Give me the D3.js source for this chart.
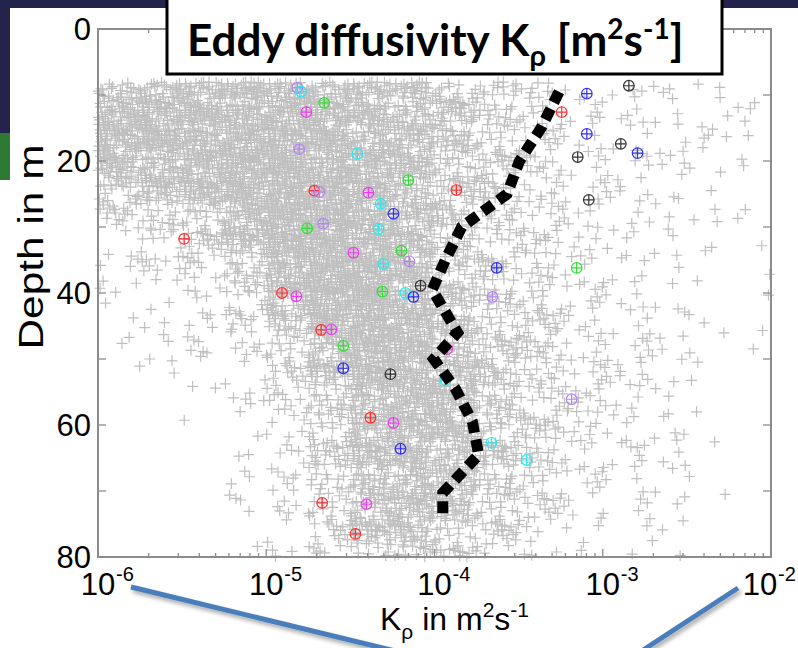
<!DOCTYPE html>
<html>
<head>
<meta charset="utf-8">
<script src="https://cdn.jsdelivr.net/npm/d3@7"></script>
<style>
    body { margin: 0; background: #fff; }
    svg { display: block; font-family: "Liberation Sans", Arial, sans-serif; }
    .frame line, .frame rect { stroke: #8c8c8c; }
</style>
</head>
<body>
<div id="chart"></div>
<script>

// depth bins (upper edge, m) and log10(K) bins (left edge) for the grey cloud of single estimates
var depthBins = [8, 12, 16, 20, 24, 28, 32, 36, 40, 44, 48, 52, 56, 60, 64, 68, 72, 76];
var logKBins = [-6, -5.75, -5.5, -5.25, -5, -4.75, -4.5, -4.25, -4, -3.75, -3.5, -3.25, -3, -2.75, -2.5, -2.25];

// number of grey crosses in each bin (rows = depth bins)
var crossCounts = [
    [40, 50, 50, 55, 55, 50, 44, 40, 28, 18, 12, 5, 4, 4, 3, 2],
    [60, 60, 60, 60, 60, 56, 50, 44, 30, 20, 12, 6, 5, 4, 3, 2],
    [56, 60, 60, 64, 64, 60, 50, 44, 30, 20, 12, 6, 5, 5, 4, 2],
    [44, 50, 56, 64, 68, 64, 56, 44, 26, 20, 12, 6, 5, 4, 2, 1],
    [20, 26, 44, 60, 70, 68, 56, 44, 24, 20, 12, 6, 5, 4, 2, 1],
    [8, 16, 22, 50, 70, 70, 60, 44, 24, 16, 11, 6, 4, 4, 2, 1],
    [5, 8, 16, 30, 64, 72, 64, 48, 24, 16, 12, 6, 4, 2, 2, 1],
    [4, 5, 8, 22, 56, 72, 68, 52, 26, 16, 12, 6, 4, 2, 1, 1],
    [2, 2, 5, 12, 40, 64, 70, 56, 30, 20, 14, 7, 5, 4, 1, 1],
    [2, 4, 5, 8, 22, 56, 68, 60, 40, 22, 16, 8, 5, 4, 2, 1],
    [1, 2, 4, 5, 16, 44, 64, 60, 44, 24, 16, 8, 6, 4, 2, 1],
    [0, 1, 2, 4, 12, 26, 56, 60, 48, 26, 16, 10, 7, 4, 1, 0],
    [0, 0, 1, 4, 10, 22, 48, 56, 48, 26, 16, 10, 6, 2, 1, 0],
    [0, 0, 0, 1, 6, 20, 44, 52, 48, 26, 16, 8, 6, 4, 1, 0],
    [0, 0, 0, 4, 6, 20, 40, 48, 44, 24, 16, 7, 5, 4, 1, 0],
    [0, 0, 0, 4, 5, 16, 40, 48, 40, 22, 12, 6, 4, 4, 1, 0],
    [0, 0, 0, 1, 5, 16, 40, 44, 30, 20, 10, 5, 2, 4, 0, 0],
    [0, 0, 0, 1, 4, 12, 26, 30, 22, 12, 5, 2, 1, 2, 0, 0]
];

// where inside a bin the crosses sit (fractions of the bin)
var binOffsets = [
    [0.12, 0.55], [0.78, 0.21], [0.43, 0.88], [0.91, 0.63], [0.27, 0.09], [0.65, 0.47], [0.05, 0.82], [0.53, 0.33],
    [0.84, 0.94], [0.36, 0.71], [0.71, 0.05], [0.18, 0.38], [0.97, 0.29], [0.48, 0.59], [0.09, 0.16], [0.61, 0.79],
    [0.32, 0.25], [0.88, 0.51], [0.22, 0.97], [0.74, 0.68], [0.41, 0.13], [0.03, 0.44], [0.57, 0.91], [0.94, 0.08],
    [0.15, 0.74], [0.69, 0.36], [0.38, 0.49], [0.82, 0.86], [0.26, 0.62], [0.51, 0.02], [0.99, 0.77], [0.07, 0.27],
    [0.63, 0.19], [0.45, 0.67], [0.80, 0.42], [0.19, 0.85], [0.56, 0.58], [0.31, 0.93], [0.87, 0.15], [0.11, 0.31],
    [0.46, 0.04], [0.02, 0.61], [0.67, 0.83], [0.29, 0.41], [0.93, 0.35], [0.58, 0.12], [0.14, 0.90], [0.76, 0.57],
    [0.35, 0.18], [0.90, 0.81], [0.23, 0.50], [0.60, 0.96], [0.08, 0.07], [0.72, 0.30], [0.49, 0.75], [0.96, 0.53],
    [0.17, 0.23], [0.54, 0.45], [0.81, 0.03], [0.39, 0.84], [0.01, 0.35], [0.66, 0.64], [0.28, 0.78], [0.85, 0.24],
    [0.44, 0.40], [0.13, 0.66], [0.77, 0.99], [0.59, 0.27], [0.33, 0.06], [0.95, 0.72], [0.21, 0.17], [0.70, 0.89],
    [0.06, 0.95], [0.50, 0.22], [0.89, 0.44], [0.25, 0.54], [0.64, 0.01], [0.42, 0.97], [0.79, 0.60], [0.16, 0.47]
];

// coloured profile estimates (K in m2/s, depth in m)
var redK = [5.7e-4, 1.35e-4, 1.93e-5, 3.25e-6, 1.24e-5, 2.12e-5, 4.16e-5, 2.15e-5, 3.39e-5];
var redDepth = [12.6, 24.4, 24.5, 31.8, 40.0, 45.6, 58.9, 71.8, 76.5];
var magentaK = [1.73e-5, 4.05e-5, 3.30e-5, 1.51e-5, 2.44e-5, 1.19e-4, 5.70e-5, 3.94e-5];
var magentaDepth = [12.6, 24.8, 33.9, 40.5, 45.5, 48.5, 59.7, 72.0];
var violetK = [1.53e-5, 1.57e-5, 2.07e-5, 2.18e-5, 7.10e-5, 2.21e-4, 6.53e-4];
var violetDepth = [8.9, 18.2, 24.7, 29.5, 35.2, 40.6, 56.1];
var cyanK = [1.61e-5, 3.48e-5, 4.78e-5, 4.65e-5, 4.97e-5, 6.71e-5, 1.16e-4, 2.18e-4, 3.53e-4];
var cyanDepth = [9.5, 18.9, 26.5, 30.3, 35.6, 40.0, 53.2, 62.7, 65.3];
var greenK = [2.21e-5, 7.00e-5, 1.75e-5, 6.37e-5, 4.90e-5, 2.87e-5, 7.00e-4];
var greenDepth = [11.2, 22.9, 30.2, 33.6, 39.8, 48.0, 36.2];
var blueK = [8.04e-4, 8.04e-4, 1.61e-3, 5.70e-5, 2.34e-4, 7.50e-5, 2.87e-5, 6.28e-5];
var blueDepth = [9.8, 15.9, 18.8, 28.0, 36.2, 40.6, 51.4, 63.6];
var blackK = [1.43e-3, 1.28e-3, 7.10e-4, 8.26e-4, 8.26e-5, 5.47e-5];
var blackDepth = [8.6, 17.4, 19.4, 25.9, 38.9, 52.3];

// median profile (thick dotted line)
var medianDepth = [9.5, 15, 20, 25, 30, 35, 39.5, 46, 50, 54.5, 59.5, 64.5, 70.3, 74.2];
var medianK = [5.5e-4, 4.3e-4, 3.2e-4, 2.7e-4, 1.45e-4, 1.16e-4, 9.7e-5, 1.37e-4, 9.9e-5, 1.33e-4, 1.68e-4, 1.83e-4, 1.12e-4, 1.12e-4];

var yTickValues = [0, 10, 20, 30, 40, 50, 60, 70, 80];
var yTickLabels = [0, 20, 40, 60, 80];
var xDecades = [1e-6, 1e-5, 1e-4, 1e-3, 1e-2];
var xDecadeExp = ["-6", "-5", "-4", "-3", "-2"];

var width = 798, height = 648;
var svg = d3.select("#chart").append("svg")
    .attr("width", width)
    .attr("height", height);

var defs = svg.append("defs");
var shadow = defs.append("filter").attr("id", "shadow")
    .attr("x", "-20%").attr("y", "-20%").attr("width", "140%").attr("height", "160%");
shadow.append("feDropShadow")
    .attr("dx", 2).attr("dy", 3).attr("stdDeviation", 2)
    .attr("flood-color", "#000").attr("flood-opacity", 0.35);

// slide decoration behind the figure
svg.append("rect").attr("x", 0).attr("y", 0).attr("width", width).attr("height", 8).attr("fill", "#23234b");
svg.append("rect").attr("x", 0).attr("y", 0).attr("width", 10).attr("height", 133).attr("fill", "#23234b");
svg.append("rect").attr("x", 0).attr("y", 133).attr("width", 10).attr("height", 47).attr("fill", "#2e7a32");

var x = d3.scaleLog().domain([1e-6, 1e-2]).range([98, 771]);
var y = d3.scaleLinear().domain([0, 80]).range([29, 557]);

// grey crosses
var crosses = [];
crossCounts.forEach(function (row, r) {
    row.forEach(function (n, c) {
        var start = (r * 11 + c * 17) % binOffsets.length;
        for (var k = 0; k < n; k++) {
            var off = binOffsets[(start + k * 3) % binOffsets.length];
            crosses.push([logKBins[c] + off[0] * 0.25, depthBins[r] + off[1] * 4]);
        }
    });
});

svg.append("g")
    .selectAll("path")
    .data(crosses)
    .enter()
    .append("path")
    .attr("d", "M-5.5,0H5.5M0,-5.5V5.5")
    .attr("transform", function (d) {
        return "translate(" + x(Math.pow(10, d[0])) + "," + y(d[1]) + ")";
    })
    .attr("stroke", "#bfbfbf")
    .attr("stroke-width", 1.2)
    .attr("fill", "none");

// frame and ticks (inward, on all four sides)
var frame = svg.append("g").attr("class", "frame");
frame.append("rect")
    .attr("x", 98).attr("y", 29).attr("width", 771 - 98).attr("height", 557 - 29)
    .attr("fill", "none").attr("stroke-width", 2);

var xMinor = x.ticks();
function tickLen(v) {
    return xDecades.indexOf(v) >= 0 ? 8 : 4;
}
frame.selectAll("line.xb").data(xMinor).enter().append("line")
    .attr("x1", function (d) { return x(d); }).attr("x2", function (d) { return x(d); })
    .attr("y1", 557).attr("y2", function (d) { return 557 - tickLen(d); })
    .attr("stroke-width", 1.3);
frame.selectAll("line.xt").data(xMinor).enter().append("line")
    .attr("x1", function (d) { return x(d); }).attr("x2", function (d) { return x(d); })
    .attr("y1", 29).attr("y2", function (d) { return 29 + tickLen(d); })
    .attr("stroke-width", 1.3);
frame.selectAll("line.yl").data(yTickValues).enter().append("line")
    .attr("x1", 98).attr("x2", 106)
    .attr("y1", function (d) { return y(d); }).attr("y2", function (d) { return y(d); })
    .attr("stroke-width", 1.3);
frame.selectAll("line.yr").data(yTickValues).enter().append("line")
    .attr("x1", 771).attr("x2", 763)
    .attr("y1", function (d) { return y(d); }).attr("y2", function (d) { return y(d); })
    .attr("stroke-width", 1.3);

// tick labels
svg.append("g").selectAll("text").data(yTickLabels).enter().append("text")
    .attr("x", 91)
    .attr("y", function (d) { return y(d) + 11; })
    .attr("text-anchor", "end")
    .style("font-size", "31px")
    .text(function (d) { return d; });

var xl = svg.append("g");
xDecades.forEach(function (v, i) {
    // the last label sits a little left of its tick so it stays on the slide
    var cx = i === xDecades.length - 1 ? x(v) - 11 : x(v);
    xl.append("text")
        .attr("x", cx).attr("y", 595)
        .attr("text-anchor", "middle")
        .style("font-size", "31px")
        .text("10");
    xl.append("text")
        .attr("x", cx + 18).attr("y", 581)
        .style("font-size", "20px")
        .text(xDecadeExp[i]);
});

// axis titles
var xt = svg.append("text")
    .attr("x", 380).attr("y", 630)
    .style("font-size", "32px");
xt.append("tspan").text("K");
xt.append("tspan").attr("dy", 9).style("font-size", "21px").text("\u03c1");
xt.append("tspan").attr("dy", -9).text(" in m");
xt.append("tspan").attr("dy", -13).style("font-size", "21px").text("2");
xt.append("tspan").attr("dy", 13).text("s");
xt.append("tspan").attr("dy", -13).style("font-size", "21px").text("-1");

svg.append("text")
    .attr("transform", "translate(43,247) rotate(-90)")
    .attr("text-anchor", "middle")
    .attr("textLength", 205)
    .attr("lengthAdjust", "spacingAndGlyphs")
    .style("font-size", "35px")
    .text("Depth in m");

// coloured estimates
var markerSeries = [
    {color: "#ff3030", k: redK, d: redDepth},
    {color: "#f03cf0", k: magentaK, d: magentaDepth},
    {color: "#b283f5", k: violetK, d: violetDepth},
    {color: "#2ee6ee", k: cyanK, d: cyanDepth},
    {color: "#2ee02e", k: greenK, d: greenDepth},
    {color: "#3030f0", k: blueK, d: blueDepth},
    {color: "#333333", k: blackK, d: blackDepth}
];
markerSeries.forEach(function (s) {
    var pts = s.k.map(function (k, i) { return [k, s.d[i]]; });
    var g = svg.append("g")
        .selectAll("g")
        .data(pts)
        .enter()
        .append("g")
        .attr("transform", function (p) { return "translate(" + x(p[0]) + "," + y(p[1]) + ")"; })
        .attr("stroke", s.color)
        .attr("stroke-width", 1.2)
        .attr("fill", "none");
    g.append("circle").attr("r", 5.3);
    g.append("path").attr("d", "M-5.3,0H5.3M0,-5.3V5.3");
});

// median profile
var medianLine = d3.line()
    .x(function (d) { return x(d[0]); })
    .y(function (d) { return y(d[1]); });
svg.append("path")
    .datum(medianK.map(function (k, i) { return [k, medianDepth[i]]; }))
    .attr("d", medianLine)
    .attr("fill", "none")
    .attr("stroke", "#000")
    .attr("stroke-width", 11)
    .attr("stroke-dasharray", "12 7");

// title box
svg.append("rect")
    .attr("x", 167).attr("y", -6).attr("width", 555).attr("height", 80)
    .attr("fill", "#fff").attr("stroke", "#000").attr("stroke-width", 3);
var title = svg.append("text")
    .attr("x", 187).attr("y", 56)
    .style("font-family", "Lato, 'Open Sans', sans-serif")
    .style("font-weight", "bold")
    .style("font-size", "44px");
title.append("tspan").text("Eddy diffusivity K");
title.append("tspan").attr("dy", 10).style("font-size", "29px").text("\u03c1");
title.append("tspan").attr("dy", -10).text(" [m");
title.append("tspan").attr("dy", -17).style("font-size", "28px").text("2");
title.append("tspan").attr("dy", 17).text("s");
title.append("tspan").attr("dy", -17).style("font-size", "28px").text("-1");
title.append("tspan").attr("dy", 17).text("]");

// callout lines
svg.append("line")
    .attr("x1", 131).attr("y1", 587).attr("x2", 395).attr("y2", 651)
    .attr("stroke", "#4a7ebb").attr("stroke-width", 5).attr("filter", "url(#shadow)");
svg.append("line")
    .attr("x1", 738).attr("y1", 588).attr("x2", 640).attr("y2", 652)
    .attr("stroke", "#4a7ebb").attr("stroke-width", 5).attr("filter", "url(#shadow)");

</script>
</body>
</html>
